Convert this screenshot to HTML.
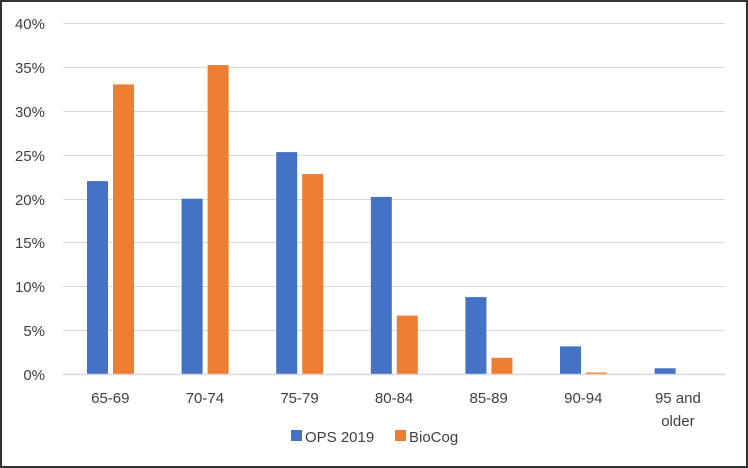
<!DOCTYPE html>
<html><head><meta charset="utf-8"><style>
html,body{margin:0;padding:0;background:#fff}
svg{display:block}
text{font-family:"Liberation Sans",sans-serif;fill:#404040}
</style></head><body>
<svg width="748" height="468" viewBox="0 0 748 468" xmlns="http://www.w3.org/2000/svg">
<rect x="1" y="1" width="746" height="466" fill="#fff" stroke="#333" stroke-width="2"/>
<g stroke="#d9d9d9" stroke-width="1">
<line x1="63" x2="725" y1="23.5" y2="23.5"/>
<line x1="63" x2="725" y1="67.5" y2="67.5"/>
<line x1="63" x2="725" y1="111.5" y2="111.5"/>
<line x1="63" x2="725" y1="155.5" y2="155.5"/>
<line x1="63" x2="725" y1="199.5" y2="199.5"/>
<line x1="63" x2="725" y1="242.5" y2="242.5"/>
<line x1="63" x2="725" y1="286.5" y2="286.5"/>
<line x1="63" x2="725" y1="330.5" y2="330.5"/>
</g>
<g font-size="15" text-anchor="end">
<text x="45" y="29">40%</text>
<text x="45" y="73">35%</text>
<text x="45" y="117">30%</text>
<text x="45" y="161">25%</text>
<text x="45" y="205">20%</text>
<text x="45" y="248">15%</text>
<text x="45" y="292">10%</text>
<text x="45" y="336">5%</text>
<text x="45" y="380">0%</text>
</g>
<g fill="#4472c4">
<rect x="87" y="181.1" width="21" height="193.4"/>
<rect x="181.6" y="198.7" width="21" height="175.8"/>
<rect x="276.2" y="152.1" width="21" height="222.4"/>
<rect x="370.8" y="196.9" width="21" height="177.6"/>
<rect x="465.4" y="297.1" width="21" height="77.4"/>
<rect x="560" y="346.4" width="21" height="28.1"/>
<rect x="654.6" y="368.3" width="21" height="6.2"/>
</g>
<g fill="#ed7d31">
<rect x="113" y="84.4" width="21" height="290.1"/>
<rect x="207.6" y="65.1" width="21" height="309.4"/>
<rect x="302.2" y="174.1" width="21" height="200.4"/>
<rect x="396.8" y="315.6" width="21" height="58.9"/>
<rect x="491.4" y="357.8" width="21" height="16.7"/>
<rect x="586" y="372.5" width="21" height="2"/>
</g>
<line x1="63" x2="725" y1="374.5" y2="374.5" stroke="#d9d9d9" stroke-width="1.5"/>
<g font-size="15" text-anchor="middle">
<text x="110.3" y="403">65-69</text>
<text x="204.9" y="403">70-74</text>
<text x="299.5" y="403">75-79</text>
<text x="394.1" y="403">80-84</text>
<text x="488.7" y="403">85-89</text>
<text x="583.3" y="403">90-94</text>
<text x="677.9" y="403">95 and</text>
<text x="677.9" y="426">older</text>
</g>
<rect x="291" y="430" width="11" height="11" fill="#4472c4"/>
<text x="305" y="442" font-size="15">OPS 2019</text>
<rect x="395" y="430" width="11" height="11" fill="#ed7d31"/>
<text x="409" y="442" font-size="15">BioCog</text>
</svg>
</body></html>
